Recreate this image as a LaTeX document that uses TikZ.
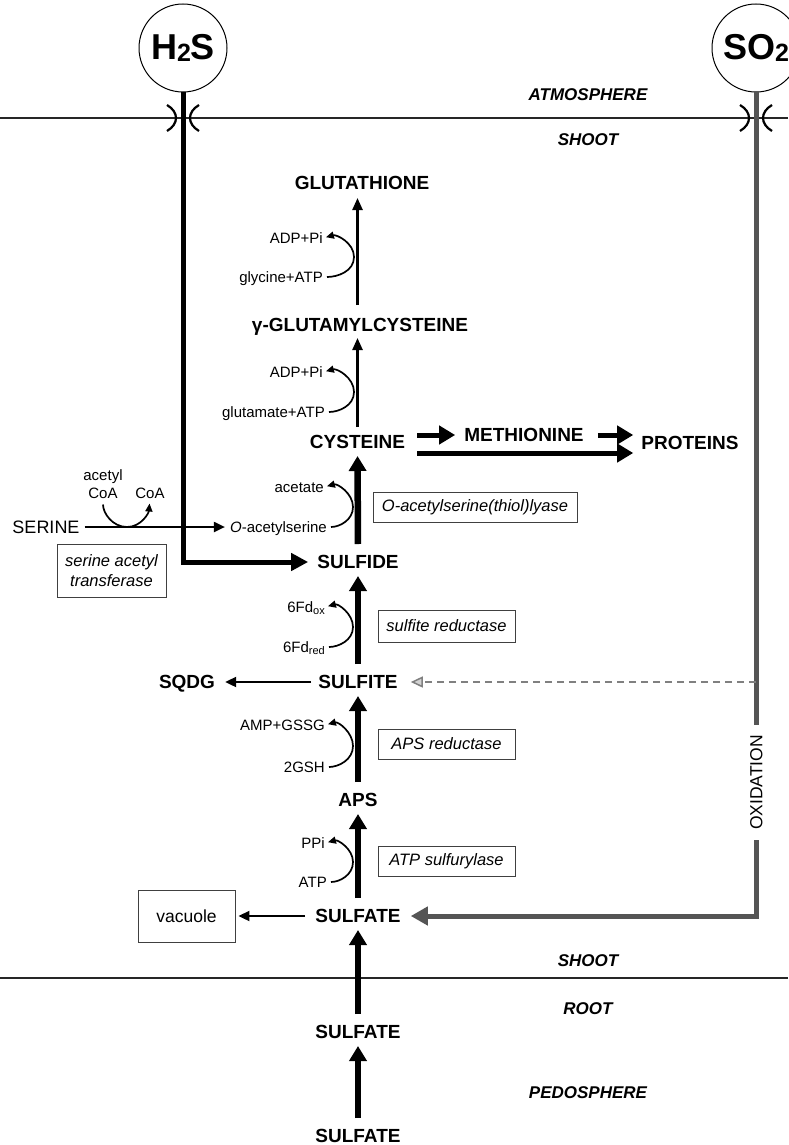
\documentclass[tikz,border=0pt]{standalone}
\usepackage{fontspec}
\setmainfont{Liberation Sans}
\usetikzlibrary{arrows.meta}
\definecolor{sogray}{RGB}{85,85,85}
\begin{document}
\begin{tikzpicture}[x=1pt,y=-1pt,
  met/.style={font=\fontsize{19}{22}\selectfont\bfseries, inner sep=0pt, text height=13.6pt, text depth=0pt},
  small/.style={font=\fontsize{15}{18}\selectfont, inner sep=0pt, text height=10.7pt, text depth=0pt, anchor=east},
  enz/.style={draw=black!75, line width=0.9pt, font=\fontsize{16.5}{20}\selectfont\itshape, minimum width=137pt, minimum height=30pt, inner sep=2pt},
  region/.style={font=\fontsize{17}{20}\selectfont\bfseries\itshape, inner sep=0pt},
  mainarr/.style={line width=6.5pt, -{Triangle[length=15pt,width=17pt]}, shorten <=11pt, shorten >=7pt},
  thinarr/.style={line width=2.4pt, -{Triangle[length=12pt,width=10pt]}},
  hthin/.style={line width=2pt, -{Triangle[length=11pt,width=10pt]}},
  sidearr/.style={line width=1.7pt, -{Triangle[length=8pt,width=7pt]}},
  fatarr/.style={line width=5pt, -{Triangle[length=16pt,width=18pt]}},
  membrane/.style={line width=2pt, black!85},
  channel/.style={line width=2.2pt},
  gasc/.style={circle, draw, line width=1pt, minimum size=88pt, inner sep=0pt, fill=white},
]
\useasboundingbox (0,0) rectangle (788,1145);
\fill[white] (0,0) rectangle (788,1145);

% membranes
\coordinate (mL1) at (0,118); \coordinate (mR1) at (788,118);
\coordinate (mL2) at (0,978); \coordinate (mR2) at (788,978);
\draw[membrane] (mL1) -- (mR1);
\draw[membrane] (mL2) -- (mR2);

% region labels
\node[region] (atm) at (588,95) {ATMOSPHERE};
\node[region] (sh1) at (588,140) {SHOOT};
\node[region] (sh2) at (588,961) {SHOOT};
\node[region] (root) at (588,1009) {ROOT};
\node[region] (pedo) at (588,1093) {PEDOSPHERE};

% gases
\node[gasc] (h2s) at (183,48) {\fontsize{36}{36}\selectfont\bfseries H\raisebox{-1.5pt}{\fontsize{25}{25}\selectfont 2}S};
\node[gasc] (so2) at (756,48) {\fontsize{36}{36}\selectfont\bfseries SO\raisebox{-1.5pt}{\fontsize{25}{25}\selectfont 2}};

% metabolites
\node[met] (glut) at (362,183) {GLUTATHIONE};
\node[met] (gc) at (360,325) {γ-GLUTAMYLCYSTEINE};
\node[met] (cys) at (357.5,442) {CYSTEINE};
\node[met] (meth) at (524,435) {METHIONINE};
\node[met] (prot) at (690,443) {PROTEINS};
\node[met] (sulfide) at (358,562) {SULFIDE};
\node[met] (sulfite) at (358,682) {SULFITE};
\node[met] (sqdg) at (187,682) {SQDG};
\node[met] (aps) at (358,800) {APS};
\node[met] (sulf1) at (358,916) {SULFATE};
\node[met] (sulf2) at (358,1032) {SULFATE};
\node[met] (sulf3) at (358,1136) {SULFATE};

% small labels
\node[small] (adp1) at (323,238) {ADP+Pi};
\node[small] (gly) at (323,277) {glycine+ATP};
\node[small] (adp2) at (323,372) {ADP+Pi};
\node[small] (glu) at (325,412) {glutamate+ATP};
\node[small] (acet) at (324,487) {acetate};
\node[small] (oas) at (327,527) {\textit{O}-acetylserine};
\node[small] (fdox) at (325,607) {6Fd\raisebox{-2pt}{\fontsize{11}{11}\selectfont ox}};
\node[small] (fdred) at (325,647) {6Fd\raisebox{-2pt}{\fontsize{11}{11}\selectfont red}};
\node[small] (amp) at (325,725) {AMP+GSSG};
\node[small] (gsh) at (325,767) {2GSH};
\node[small] (ppi) at (325,843) {PPi};
\node[small] (atp) at (327,882) {ATP};

\node[small, anchor=center] (acetyl) at (103,475) {acetyl};
\node[small, anchor=center] (acoa) at (103,493) {CoA};
\node[small, anchor=center] (coa) at (150,493) {CoA};
\node[inner sep=0pt, font=\fontsize{18}{20}\selectfont, text height=12.9pt, text depth=0pt] (serine) at (46,527) {SERINE};

% enzyme boxes
\node[enz, minimum width=204pt] (oasbox) at (475,507) {O-acetylserine(thiol)lyase};
\node[enz, minimum height=32pt] (sirbox) at (446.5,626) {sulfite reductase};
\node[enz] (apsrbox) at (446.5,744) {APS reductase};
\node[enz] (atpsbox) at (446.5,861) {ATP sulfurylase};
\node[enz, minimum width=109pt, minimum height=53pt, align=center, font=\fontsize{16.5}{20}\selectfont\itshape] (satbox) at (111.5,570.5) {serine acetyl\\transferase};
\node[draw=black!75, line width=0.9pt, minimum width=97pt, minimum height=52pt, font=\fontsize{17.5}{20}\selectfont] (vac) at (186.5,916) {vacuole};

% main pathway arrows
\draw[mainarr] (sulf3.north) -- (sulf2.south);
\draw[mainarr] (sulf2.north) -- (sulf1.south);
\draw[mainarr] (sulf1.north) -- (aps.south);
\draw[mainarr] (aps.north) -- (sulfite.south);
\draw[mainarr] (sulfite.north) -- (sulfide.south);
\draw[mainarr] (sulfide.north) -- (cys.south);
\draw[thinarr, shorten <=8pt, shorten >=6pt] (cys.north) -- (cys.north |- gc.south);
\draw[thinarr, shorten <=13pt, shorten >=8pt] (cys.north |- gc.north) -- (cys.north |- glut.south);

% cysteine -> methionine -> proteins
\coordinate (ly) at (0,453);
\draw[fatarr, shorten <=12pt, shorten >=9pt] (cys.east |- meth.west) -- (meth.west);
\draw[fatarr, shorten <=14pt, shorten >=8pt] (meth.east) -- (prot.west |- meth.east);
\draw[fatarr, shorten <=12pt, shorten >=8pt] (cys.east |- ly) -- (prot.west |- ly);

% side branches
\draw[hthin, shorten <=7pt, shorten >=10pt] (sulfite.west) -- (sqdg.east);
\draw[hthin, shorten <=10pt, shorten >=3pt] (sulf1.west) -- (vac.east);
\draw[hthin, shorten <=5pt, shorten >=5pt] (serine.east) -- (oas.west);

% co-substrate curves
\coordinate (b1) at (354,257);
\coordinate (b2) at (354,392);
\coordinate (b3) at (353,507);
\coordinate (b4) at (353,627);
\coordinate (b5) at (353,746);
\coordinate (b6) at (353,862);
\coordinate (b7) at (127,527);
\draw[sidearr, shorten <=4pt, shorten >=3pt] (gly.east) to[out=0,in=-90] (b1) to[out=90,in=15] (adp1.east);
\draw[sidearr, shorten <=4pt, shorten >=3pt] (glu.east) to[out=0,in=-90] (b2) to[out=90,in=15] (adp2.east);
\draw[sidearr, shorten <=4pt, shorten >=3pt] (oas.east) to[out=0,in=-90] (b3) to[out=90,in=15] (acet.east);
\draw[sidearr, shorten <=4pt, shorten >=3pt] (fdred.east) to[out=0,in=-90] (b4) to[out=90,in=15] (fdox.east);
\draw[sidearr, shorten <=4pt, shorten >=3pt] (gsh.east) to[out=0,in=-90] (b5) to[out=90,in=15] (amp.east);
\draw[sidearr, shorten <=4pt, shorten >=3pt] (atp.east) to[out=0,in=-90] (b6) to[out=90,in=15] (ppi.east);
\draw[sidearr, shorten <=6pt, shorten >=5pt] (acoa.south) to[out=-90,in=180] (b7) to[out=0,in=-95] (coa.south);

% H2S uptake
\draw[line width=5pt, -{Triangle[length=17pt,width=17pt]}, shorten >=9pt] (h2s.south) |- (sulfide.west);
% SO2 uptake and oxidation
\node[inner sep=0pt, rotate=90, font=\fontsize{17.5}{20}\selectfont, text height=12.5pt, text depth=0pt, fill=white] (ox) at (756,782.5) {OXIDATION};
\draw[line width=5pt, sogray, shorten >=10pt] (so2.south) -- (ox.east);
\draw[line width=5pt, sogray, -{Triangle[length=17pt,width=18pt]}, shorten <=10pt, shorten >=10pt] (ox.west) |- (sulf1.east);
\coordinate (dstart) at (756,682);
\draw[line width=1.5pt, gray, dash pattern=on 7pt off 5pt, -{Triangle[length=12pt,width=11pt,fill=gray!35]}, shorten >=13pt] (dstart) -- (sulfite.east);

% membrane channels
\draw[channel] (167,105) .. controls (179,112) and (179,124) .. (167,131);
\draw[channel] (199,105) .. controls (187,112) and (187,124) .. (199,131);
\draw[channel] (740,105) .. controls (752,112) and (752,124) .. (740,131);
\draw[channel] (772,105) .. controls (760,112) and (760,124) .. (772,131);
\end{tikzpicture}
\end{document}
